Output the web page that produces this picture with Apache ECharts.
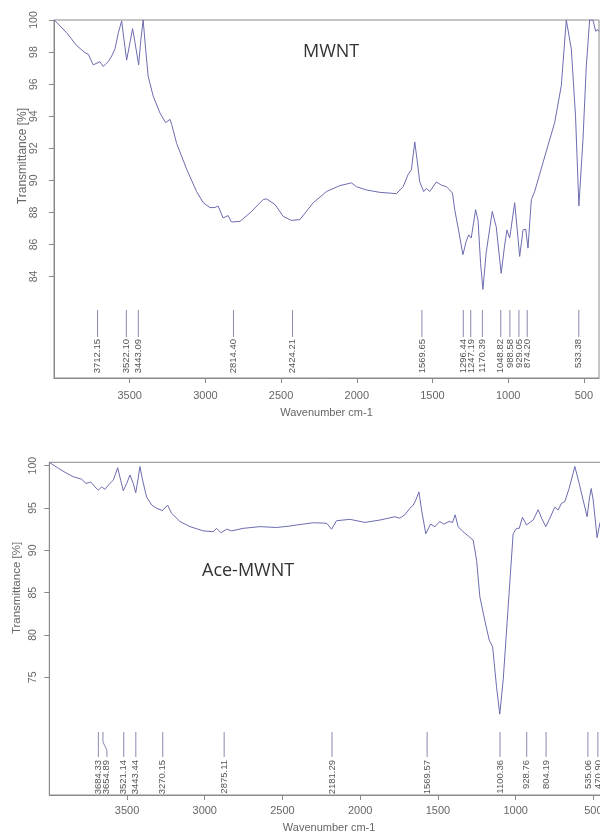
<!DOCTYPE html>
<html>
<head>
<meta charset="utf-8">
<script src="https://cdn.jsdelivr.net/npm/echarts@6/dist/echarts.min.js"></script>
<style>html,body{margin:0;padding:0;background:#fff;}#c{width:600px;height:831px;}</style>
</head>
<body>
<div id="c"></div>
<script>
// ---- Data ----
const xTickValues = [3500, 3000, 2500, 2000, 1500, 1000, 500];
const yTicksTop = [84, 86, 88, 90, 92, 94, 96, 98, 100];
const yTicksBottom = [75, 80, 85, 90, 95, 100];

const mwntWavenumber = [3998,3916,3850,3795,3773,3741,3696,3675,3642,3619,3597,3575,3553,3538,3520,3498,3481,3465,3441,3426,3411,3395,3378,3345,3300,3263,3234,3223,3190,3124,3058,3014,2970,2937,2916,2883,2850,2828,2772,2706,2618,2596,2541,2486,2431,2376,2288,2200,2112,2035,2002,1936,1848,1738,1694,1661,1639,1617,1602,1584,1558,1540,1518,1474,1441,1408,1386,1368,1353,1324,1299,1277,1260,1244,1215,1199,1182,1167,1145,1105,1079,1046,1024,1008,990,957,942,924,902,884,869,847,825,770,693,649,616,583,555,533,506,484,462,440,422,407,400];
const mwntTransmittance = [100,99.2,98.4,97.96,97.86,97.2,97.4,97.1,97.4,97.75,98.2,99.2,99.94,98.8,97.5,98.6,99.46,98.6,97.2,98.8,100,98.2,96.5,95.25,94.2,93.6,93.8,93.5,92.3,90.7,89.3,88.6,88.3,88.3,88.4,87.65,87.8,87.4,87.44,87.96,88.8,88.84,88.5,87.75,87.5,87.55,88.6,89.3,89.67,89.84,89.6,89.4,89.25,89.17,89.6,90.36,90.67,92.4,91.3,89.9,89.3,89.5,89.3,89.9,89.7,89.6,89.4,89.2,88.17,86.7,85.36,86.2,86.6,86.4,88.17,87.5,84.8,83.2,85.5,88.06,87.1,84.2,85.9,86.9,86.4,88.6,87.1,85.25,86.9,86.96,85.77,88.8,89.3,91.1,93.6,95.9,100,98.2,94,88.4,92.5,97.1,100,100,99.3,99.4,99.3];
const mwntPeaks = [3712.15, 3522.10, 3443.09, 2814.40, 2424.21, 1569.65, 1296.44, 1247.19, 1170.39, 1048.82, 988.58, 929.05, 874.20, 533.38];

const aceWavenumber = [3996,3942,3888,3846,3792,3764,3734,3706,3685,3663,3642,3621,3588,3560,3541,3524,3502,3481,3460,3444,3430,3417,3400,3374,3341,3309,3271,3239,3213,3159,3095,3010,2945,2924,2896,2859,2827,2752,2645,2538,2452,2388,2302,2216,2184,2152,2066,1970,1873,1777,1745,1713,1680,1659,1642,1622,1605,1578,1547,1520,1487,1462,1428,1406,1389,1370,1338,1305,1273,1251,1230,1198,1170,1148,1123,1102,1080,1048,1016,994,977,956,930,887,855,833,806,780,748,727,705,684,656,619,591,566,540,527,514,501,476,458,440];
const aceTransmittance = [100.35,99.7,99.1,98.7,98.4,97.9,98.07,97.5,97.1,97.5,97.2,97.7,98.3,99.76,98.3,97.05,97.9,98.9,97.9,96.8,98.3,99.9,98.3,96.3,95.35,94.96,94.7,95.35,94.37,93.4,92.8,92.3,92.2,92.6,92.08,92.5,92.3,92.6,92.8,92.7,92.87,93.05,93.26,93.2,92.5,93.5,93.66,93.3,93.58,93.97,93.8,94.2,94.96,95.35,95.95,96.9,94.76,91.96,93.1,92.8,93.4,93.1,93.4,93.3,94.2,92.8,92.2,91.7,91.2,88.8,84.5,81.7,79.4,78.6,73.9,70.65,74.7,83.35,91.97,92.6,92.6,93.9,93,93.58,94.8,93.8,92.8,93.8,95.1,94.76,95.55,95.75,97.3,99.9,97.9,95.95,93.97,95.95,97.3,95.95,91.5,93.2,94];
const acePeaks = [3684.33, 3654.89, 3521.14, 3443.44, 3270.15, 2875.11, 2181.29, 1569.57, 1100.36, 928.76, 804.19, 535.06, 470.90];

const titles = ['MWNT', 'Ace-MWNT'];
const xName = 'Wavenumber cm-1';
const yName = 'Transmittance [%]';

// ---- Styles ----
const AXIS = '#8a8a8a';
const TXT = '#666';
const LINE = '#6c6cb0';
const PEAK = '#8a8ab0';
const FONT = '"Liberation Sans", Arial, sans-serif';

const TOP_YMIN = 77.67, BOT_YMIN = 61.1;

function zip(a, b) { return a.map((v, i) => [v, b[i]]); }

function peakRender(values, yMin, cfg) {
  return function (params, api) {
    const xs = values.map(v => api.coord([v, yMin])[0]);
    const lx = [];
    for (let j = 0; j < xs.length; j++) {
      lx[j] = j === 0 ? xs[j] : Math.max(xs[j], lx[j - 1] + 8.5);
    }
    const i = params.dataIndex;
    const base = api.coord([values[i], yMin])[1];
    const x = xs[i], L = lx[i];
    const top = base - cfg.lineTop, bot = base - cfg.lineBot;
    let pts;
    if (Math.abs(L - x) < 1.5) pts = [[x, top], [x, bot]];
    else pts = [[x, top], [x, top + 10], [L, top + 18], [L, bot]];
    return {
      type: 'group',
      children: [
        { type: 'polyline', shape: { points: pts }, style: { stroke: PEAK, lineWidth: 1, fill: null } },
        { type: 'text', x: L, y: base - cfg.textTop, rotation: Math.PI / 2,
          style: { text: values[i].toFixed(2), align: 'right', verticalAlign: 'middle', fill: '#555', font: '9.5px ' + FONT } }
      ]
    };
  };
}

function xAxisCfg(gi, gap, margin) {
  return {
    gridIndex: gi, type: 'value', min: 400, max: 4000, inverse: true,
    name: xName, nameLocation: 'middle', nameGap: gap,
    nameTextStyle: { color: TXT, fontSize: 11, fontFamily: FONT },
    axisLine: { show: true, lineStyle: { color: AXIS } },
    axisTick: { show: true, customValues: xTickValues, length: 5, lineStyle: { color: AXIS } },
    axisLabel: { customValues: xTickValues, formatter: v => String(v), color: TXT, fontSize: 11, fontFamily: FONT, margin: margin },
    splitLine: { show: false }
  };
}
function yAxisCfg(gi, min, max, ticks, margin) {
  return {
    gridIndex: gi, type: 'value', min: min, max: max,
    axisLine: { show: true, lineStyle: { color: AXIS } },
    axisTick: { show: true, customValues: ticks, length: 5, lineStyle: { color: AXIS } },
    axisLabel: { customValues: ticks, formatter: v => String(v), rotate: 90, color: TXT, fontSize: 10.5, fontFamily: FONT, margin: margin },
    splitLine: { show: false }
  };
}

const chart = echarts.init(document.getElementById('c'), null, { renderer: 'canvas' });
chart.setOption({
  animation: false,
  backgroundColor: '#fff',
  grid: [
    { left: 54, top: 20, width: 545, height: 358, show: true, borderColor: AXIS, borderWidth: 1, outerBoundsMode: 'none', containLabel: false },
    { left: 49.3, top: 462.3, width: 559.6, height: 332.7, show: true, borderColor: AXIS, borderWidth: 1, outerBoundsMode: 'none', containLabel: false }
  ],
  xAxis: [xAxisCfg(0, 29, 12.5), xAxisCfg(1, 27.5, 10)],
  yAxis: [yAxisCfg(0, TOP_YMIN, 100, yTicksTop, 14), yAxisCfg(1, BOT_YMIN, 100.4, yTicksBottom, 11)],
  graphic: [
    { type: 'text', x: 23, y: 156, rotation: Math.PI / 2,
      style: { text: yName, align: 'center', verticalAlign: 'middle', fill: TXT, font: '12px ' + FONT } },
    { type: 'text', x: 17, y: 588, rotation: Math.PI / 2,
      style: { text: yName, align: 'center', verticalAlign: 'middle', fill: TXT, font: '11.5px ' + FONT } },
    { type: 'text', x: 303, y: 52,
      style: { text: titles[0], align: 'left', verticalAlign: 'middle', fill: '#333', font: '18px "Open Sans", sans-serif' } },
    { type: 'text', x: 202, y: 571,
      style: { text: titles[1], align: 'left', verticalAlign: 'middle', fill: '#333', font: '18px "Open Sans", sans-serif' } }
  ],
  series: [
    { type: 'line', xAxisIndex: 0, yAxisIndex: 0, data: zip(mwntWavenumber, mwntTransmittance),
      showSymbol: false, lineStyle: { color: LINE, width: 1 }, silent: true },
    { type: 'line', xAxisIndex: 1, yAxisIndex: 1, data: zip(aceWavenumber, aceTransmittance),
      showSymbol: false, lineStyle: { color: LINE, width: 1 }, silent: true },
    { type: 'custom', xAxisIndex: 0, yAxisIndex: 0, clip: false, silent: true,
      data: mwntPeaks.map(v => [v, TOP_YMIN]),
      renderItem: peakRender(mwntPeaks, TOP_YMIN, { lineTop: 68, lineBot: 41, textTop: 39 }) },
    { type: 'custom', xAxisIndex: 1, yAxisIndex: 1, clip: false, silent: true,
      data: acePeaks.map(v => [v, BOT_YMIN]),
      renderItem: peakRender(acePeaks, BOT_YMIN, { lineTop: 63, lineBot: 38, textTop: 35 }) }
  ]
});
</script>
</body>
</html>
